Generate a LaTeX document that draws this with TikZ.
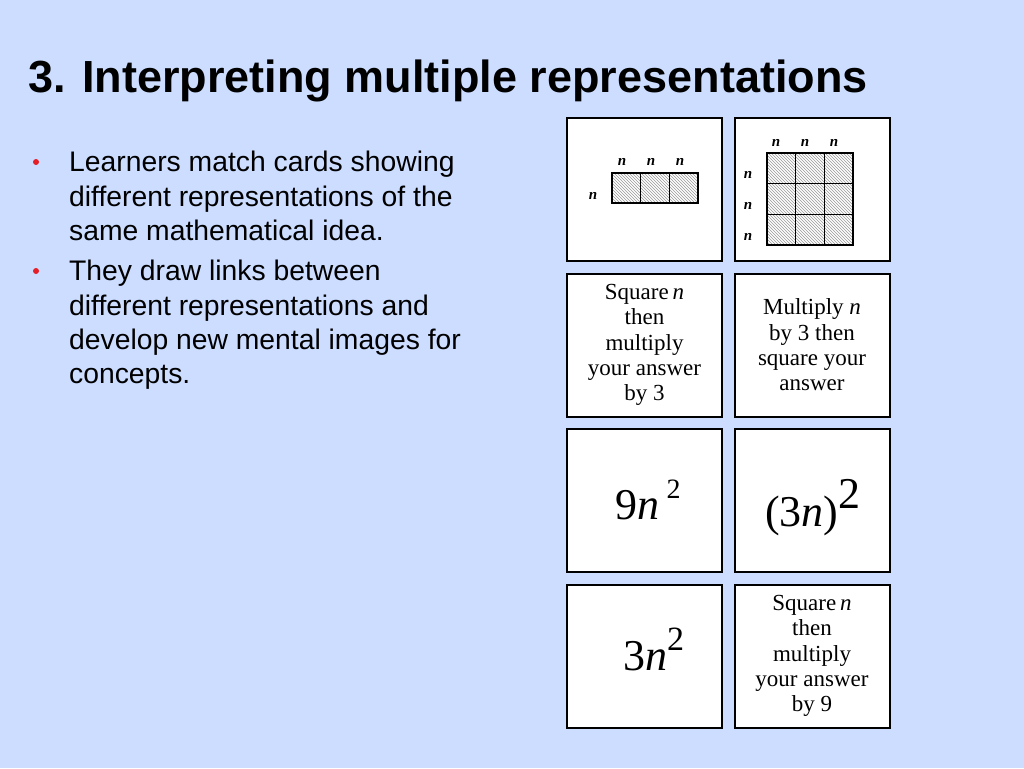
\documentclass[tikz,border=0pt]{standalone}
\usepackage{fontspec}
\setmainfont{Liberation Serif}
\newfontfamily\slidefont{Liberation Sans}
\usepackage{tikz}
\usetikzlibrary{positioning, patterns}

\definecolor{slideblue}{RGB}{204,221,255}
\definecolor{dotred}{RGB}{230,30,40}
\newcommand{\cardfont}{\fontsize{23}{25.3}\selectfont}
\newcommand{\bigfont}{\fontsize{44}{44}\selectfont}
\newcommand{\bullettext}[1]{\parbox[t]{430pt}{\raggedright #1}}

\begin{document}
\begin{tikzpicture}[x=1pt,y=-1pt,node distance=10.5pt,
	card/.style={draw=black,line width=2pt,fill=white,minimum width=155pt,minimum height=143pt,inner sep=0pt,align=center,font=\cardfont},
	hatchbox/.style={draw=black,line width=1.5pt,pattern=north west lines,pattern color=gray!80},
	cellline/.style={draw=black,line width=1.5pt},
	lab/.style={inner sep=0pt,font=\fontsize{15}{15}\selectfont\bfseries\itshape},
	formula/.style={inner sep=0pt,anchor=base west,font=\bigfont},
	dot/.style={circle,fill=dotred,inner sep=0pt,minimum size=6pt},
	bullet/.style={inner sep=0pt,anchor=base west,font=\slidefont\fontsize{28.3}{34.3}\selectfont}]
\useasboundingbox (0,0) rectangle (1024,768);
\fill[slideblue] (0,0) rectangle (1024,768);

% title and bullets
\node[inner sep=0pt,anchor=base west,font=\slidefont\bfseries\fontsize{45}{45}\selectfont] (title) at (28,92.3) {3. Interpreting multiple representations};
\node[dot] (d1) at (36,162) {};
\node[bullet] (b1) at (69,171.7) {\bullettext{Learners match cards showing\\different representations of the\\same mathematical idea.}};
\node[dot] (d2) at (36,271) {};
\node[bullet] (b2) at (69,280.7) {\bullettext{They draw links between\\different representations and\\develop new mental images for\\concepts.}};

% the cards
\node[card] (c1) at (644.5,189.5) {};
\node[card,right=of c1] (c2) {};
\node[card,below=of c1] (c3) {Square\,\textit{n}\\then\\multiply\\your answer\\by 3};
\node[card,right=of c3] (c4) {Multiply \textit{n}\\by 3 then\\square your\\answer};
\node[card,below=of c3] (c5) {};
\node[card,right=of c5] (c6) {};
\node[card,below=of c5] (c7) {};
\node[card,right=of c7] (c8) {Square\,\textit{n}\\then\\multiply\\your answer\\by 9};

% one row of squares
\begin{scope}[shift={(c1.center)}]
\draw[hatchbox] (-32.5,-16.5) rectangle (53.5,13.5);
\draw[cellline] (-3.8,-16.5) -- (-3.8,13.5) (24.8,-16.5) -- (24.8,13.5);
\node[lab] (t1a) at (-22.5,-27.5) {n};
\node[lab] (t1b) at (6.5,-27.5) {n};
\node[lab] (t1c) at (35.5,-27.5) {n};
\node[lab] (s1a) at (-51.5,6) {n};
\end{scope}

% three rows of squares
\begin{scope}[shift={(c2.center)}]
\draw[hatchbox] (-45,-36.5) rectangle (41,55.5);
\draw[cellline] (-16.3,-36.5) -- (-16.3,55.5) (12.3,-36.5) -- (12.3,55.5)
	(-45,-5.8) -- (41,-5.8) (-45,24.8) -- (41,24.8);
\node[lab] (t2a) at (-36,-46.5) {n};
\node[lab] (t2b) at (-7,-46.5) {n};
\node[lab] (t2c) at (22,-46.5) {n};
\node[lab] (s2a) at (-64,-14.5) {n};
\node[lab] (s2b) at (-64,16.5) {n};
\node[lab] (s2c) at (-64,47.5) {n};
\end{scope}

% expressions
\node[formula] (f5) at ([shift={(-29.5,18.5)}]c5.center) {9\textit{n}\,\raisebox{21pt}{\fontsize{28}{28}\selectfont 2}};
\node[formula] (f6) at ([shift={(-47,26)}]c6.center) {(3\textit{n})\raisebox{18pt}{2}};
\node[formula] (f7) at ([shift={(-21.5,14)}]c7.center) {3\textit{n}\raisebox{20pt}{\fontsize{34}{34}\selectfont 2}};
\end{tikzpicture}
\end{document}
